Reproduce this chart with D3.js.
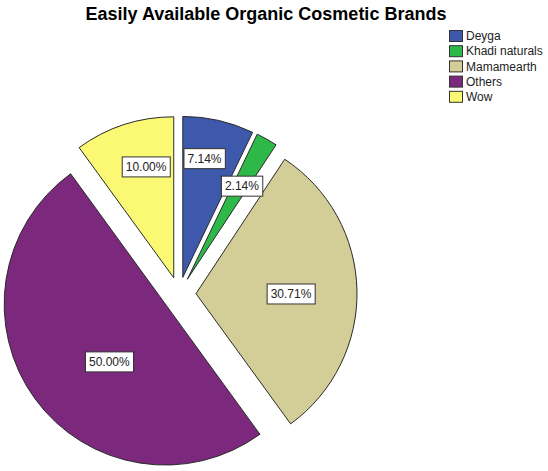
<!DOCTYPE html>
<html>
<head>
<meta charset="utf-8">
<script src="https://cdn.jsdelivr.net/npm/d3@7"></script>
<style>
  body { margin: 0; background: #fff; }
  text { font-family: "Liberation Sans", Arial, sans-serif; }
</style>
</head>
<body>
<div id="chart"></div>
<script>
const brands = ['Deyga', 'Khadi naturals', 'Mamamearth', 'Others', 'Wow'];
const counts = [10, 3, 43, 70, 14];
const colors = ['#3E58AC', '#2EB848', '#D3CE97', '#7C287D', '#FBF873'];

// label placement (fraction of radius, angle tweak in degrees)
const labelRadius = [0.75, 0.67, 0.59, 0.5, 0.71];
const labelShift = [-2.5, 0.8, 1.5, -10, 4];

const width = 548, height = 471;
const cx = 179, cy = 294, radius = 161, explode = 17;

const svg = d3.select('#chart').append('svg').attr('width', width).attr('height', height);

svg.append('text')
	.attr('x', 266).attr('y', 20)
	.attr('text-anchor', 'middle')
	.style('font-size', '18px').style('font-weight', 'bold')
	.attr('fill', '#000')
	.text('Easily Available Organic Cosmetic Brands');

const total = d3.sum(counts);
const pie = d3.pie().sort(null).value((d) => d)(counts);
const arc = d3.arc().innerRadius(0).outerRadius(radius);

const offset = (a, r) => [Math.sin(a) * r, -Math.cos(a) * r];

const slices = svg.append('g').attr('transform', `translate(${cx},${cy})`);

pie.forEach((p, i) => {
	const mid = (p.startAngle + p.endAngle) / 2;
	const [ox, oy] = offset(mid, explode);
	const g = slices.append('g').attr('transform', `translate(${ox},${oy})`);
	g.append('path')
		.attr('d', arc(p))
		.attr('fill', colors[i])
		.attr('stroke', '#2a2a2a')
		.attr('stroke-width', 1);
});

pie.forEach((p, i) => {
	const mid = (p.startAngle + p.endAngle) / 2;
	const [ox, oy] = offset(mid, explode);
	const [lx, ly] = offset(mid + (labelShift[i] * Math.PI) / 180, labelRadius[i] * radius);
	const g = slices.append('g').attr('transform', `translate(${ox + lx},${oy + ly})`);
	const rect = g.append('rect');
	const t = g.append('text')
		.attr('text-anchor', 'middle')
		.attr('dy', '0.35em')
		.style('font-size', '12px')
		.attr('fill', '#222')
		.text(((p.data / total) * 100).toFixed(2) + '%');
	const bb = t.node().getBBox();
	rect.attr('x', bb.x - 3.5).attr('y', -10)
		.attr('width', bb.width + 7).attr('height', 20)
		.attr('fill', '#fff').attr('stroke', '#333').attr('stroke-width', 1);
});

// legend
const legend = svg.append('g').attr('transform', 'translate(449,30)');
brands.forEach((b, i) => {
	const row = legend.append('g').attr('transform', `translate(0,${i * 15.2})`);
	row.append('rect')
		.attr('x', 0.5).attr('y', 0.5)
		.attr('width', 13).attr('height', 11)
		.attr('fill', colors[i]).attr('stroke', '#333').attr('stroke-width', 1);
	row.append('text')
		.attr('x', 17).attr('y', 6)
		.attr('dy', '0.35em')
		.style('font-size', '12px')
		.attr('fill', '#222')
		.text(b);
});
</script>
</body>
</html>
